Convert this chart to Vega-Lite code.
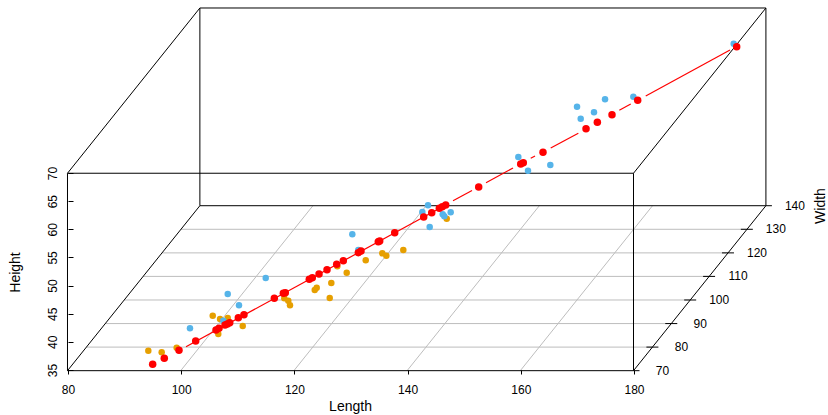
{
"$schema":"https://vega.github.io/schema/vega-lite/v6.json",
"width":828,"height":415,"padding":0,"autosize":{"type":"none"},
"background":"white",
"config":{"view":{"stroke":null},"font":"Liberation Sans"},
"datasets":{
"points":[
{"Length":94.19,"Height":38.43,"group":"orange"},{"Length":96.55,"Height":38.14,"group":"orange"},{"Length":99.2,"Height":38.96,"group":"orange"},{"Length":105.57,"Height":44.65,"group":"orange"},{"Length":106.86,"Height":44.06,"group":"orange"},{"Length":108.22,"Height":44.24,"group":"orange"},{"Length":106.55,"Height":41.4,"group":"orange"},{"Length":110.87,"Height":42.82,"group":"orange"},{"Length":118.22,"Height":47.74,"group":"orange"},{"Length":118.92,"Height":47.31,"group":"orange"},{"Length":119.22,"Height":46.49,"group":"orange"},{"Length":127.58,"Height":53.42,"group":"orange"},{"Length":129.24,"Height":52.29,"group":"orange"},{"Length":126.52,"Height":50.46,"group":"orange"},{"Length":123.94,"Height":49.62,"group":"orange"},{"Length":123.59,"Height":49.21,"group":"orange"},{"Length":126.24,"Height":47.79,"group":"orange"},{"Length":132.6,"Height":54.49,"group":"orange"},{"Length":135.53,"Height":55.73,"group":"orange"},{"Length":136.24,"Height":55.31,"group":"orange"},{"Length":139.24,"Height":56.32,"group":"orange"},{"Length":146.91,"Height":61.88,"group":"orange"},
{"Length":101.55,"Height":42.41,"group":"blue"},{"Length":108.22,"Height":48.5,"group":"blue"},{"Length":110.21,"Height":46.49,"group":"blue"},{"Length":114.93,"Height":51.35,"group":"blue"},{"Length":107.44,"Height":43.76,"group":"blue"},{"Length":130.23,"Height":59.11,"group":"blue"},{"Length":131.29,"Height":56.32,"group":"blue"},{"Length":143.6,"Height":64.26,"group":"blue"},{"Length":142.6,"Height":63.07,"group":"blue"},{"Length":143.9,"Height":60.41,"group":"blue"},{"Length":147.61,"Height":63.02,"group":"blue"},{"Length":146.2,"Height":62.66,"group":"blue"},{"Length":146.48,"Height":62.31,"group":"blue"},{"Length":197.61,"Height":92.97,"group":"blue"},{"Length":179.88,"Height":83.56,"group":"blue"},{"Length":174.88,"Height":83.09,"group":"blue"},{"Length":169.93,"Height":81.78,"group":"blue"},{"Length":172.93,"Height":80.78,"group":"blue"},{"Length":170.58,"Height":79.65,"group":"blue"},{"Length":159.56,"Height":72.84,"group":"blue"},{"Length":165.21,"Height":71.42,"group":"blue"},{"Length":161.27,"Height":70.41,"group":"blue"}
],
"fit":[
{"Length":94.96,"Height":36.01},{"Length":97.01,"Height":37.08},{"Length":99.61,"Height":38.5},{"Length":102.56,"Height":40.15},{"Length":106.15,"Height":42.11},{"Length":106.68,"Height":42.41},{"Length":107.74,"Height":42.99},{"Length":108.15,"Height":43.17},{"Length":108.57,"Height":43.4},{"Length":110.09,"Height":44.29},{"Length":111.09,"Height":44.82},{"Length":116.45,"Height":47.74},{"Length":118.04,"Height":48.63},{"Length":118.39,"Height":48.73},{"Length":122.63,"Height":51.11},{"Length":123.16,"Height":51.4},{"Length":124.35,"Height":52.06},{"Length":125.76,"Height":52.82},{"Length":127.47,"Height":53.78},{"Length":128.64,"Height":54.42},{"Length":131.29,"Height":55.84},{"Length":131.77,"Height":56.14},{"Length":134.82,"Height":57.79},{"Length":135.07,"Height":57.92},{"Length":137.72,"Height":59.39},{"Length":142.84,"Height":62.18},{"Length":144.26,"Height":62.95},{"Length":145.6,"Height":63.73},{"Length":146.13,"Height":64.01},{"Length":146.73,"Height":64.31},{"Length":152.56,"Height":67.51},{"Length":159.98,"Height":71.6},{"Length":160.44,"Height":71.83},{"Length":163.92,"Height":73.68},{"Length":171.52,"Height":77.87},{"Length":173.52,"Height":79.01},{"Length":176.11,"Height":80.36},{"Length":180.65,"Height":82.92},{"Length":198.14,"Height":92.44}
],
"segments":[
{"seg":"A","Length":100.85,"Height":39.14},{"seg":"A","Length":146.73,"Height":64.31},
{"seg":"B","Length":148.02,"Height":65.08},{"seg":"B","Length":151.38,"Height":66.89},
{"seg":"C","Length":153.85,"Height":68.28},{"seg":"C","Length":158.62,"Height":70.89},
{"seg":"D","Length":161.75,"Height":72.61},{"seg":"D","Length":162.51,"Height":73.02},
{"seg":"E","Length":165.28,"Height":74.44},{"seg":"E","Length":170.16,"Height":77.05},
{"seg":"F","Length":177.4,"Height":81.14},{"seg":"F","Length":179.42,"Height":82.26},
{"seg":"G","Length":182.07,"Height":83.68},{"seg":"G","Length":196.96,"Height":91.85}
],
"grid":[
{"Length":99.91,"Height":34.88,"L2":123.27,"H2":64.19},{"Length":119.91,"Height":34.88,"L2":143.27,"H2":64.19},{"Length":139.91,"Height":34.88,"L2":163.27,"H2":64.19},{"Length":159.91,"Height":34.88,"L2":183.27,"H2":64.19},
{"Length":83.25,"Height":39.07,"L2":183.25,"H2":39.07},{"Length":86.58,"Height":43.25,"L2":186.58,"H2":43.25},{"Length":89.92,"Height":47.44,"L2":189.92,"H2":47.44},{"Length":93.26,"Height":51.63,"L2":193.26,"H2":51.63},{"Length":96.6,"Height":55.81,"L2":196.6,"H2":55.81},{"Length":99.93,"Height":60.0,"L2":199.93,"H2":60.0}
],
"frame":[
{"Length":79.91,"Height":34.88,"L2":179.91,"H2":34.88},{"Length":79.91,"Height":69.96,"L2":179.91,"H2":69.96},{"Length":79.91,"Height":34.88,"L2":79.91,"H2":69.96},{"Length":179.91,"Height":34.88,"L2":179.91,"H2":69.96},
{"Length":103.3,"Height":64.19,"L2":203.3,"H2":64.19},{"Length":103.3,"Height":99.32,"L2":203.3,"H2":99.32},{"Length":103.3,"Height":64.19,"L2":103.3,"H2":99.32},{"Length":203.3,"Height":64.19,"L2":203.3,"H2":99.32},
{"Length":79.91,"Height":34.88,"L2":103.3,"H2":64.19},{"Length":79.91,"Height":69.96,"L2":103.3,"H2":99.32},{"Length":179.91,"Height":34.88,"L2":203.3,"H2":64.19},{"Length":179.91,"Height":69.96,"L2":203.3,"H2":99.32},
{"Length":179.91,"Height":34.88,"L2":180.97,"H2":34.88},{"Length":182.19,"Height":39.07,"L2":184.31,"H2":39.07},{"Length":185.52,"Height":43.25,"L2":187.64,"H2":43.25},{"Length":188.86,"Height":47.44,"L2":190.98,"H2":47.44},{"Length":192.2,"Height":51.63,"L2":194.32,"H2":51.63},{"Length":195.54,"Height":55.81,"L2":197.66,"H2":55.81},{"Length":198.87,"Height":60.0,"L2":200.99,"H2":60.0},{"Length":203.3,"Height":64.19,"L2":204.36,"H2":64.19}
],
"widthLabels":[
{"Length":179.91,"Height":34.88,"Width":70},{"Length":183.25,"Height":39.07,"Width":80},{"Length":186.58,"Height":43.25,"Width":90},{"Length":189.92,"Height":47.44,"Width":100},{"Length":193.26,"Height":51.63,"Width":110},{"Length":196.6,"Height":55.81,"Width":120},{"Length":199.93,"Height":60.0,"Width":130},{"Length":203.3,"Height":64.19,"Width":140}
],
"widthTitle":[{"Length":213.04,"Height":64.14,"label":"Width"}]
},
"layer":[
{"data":{"name":"grid"},"mark":{"type":"rule","color":"#bdbdbd","strokeWidth":1},
"encoding":{
"x":{"field":"Length","type":"quantitative","scale":{"domain":[67.986,214.27],"nice":false,"zero":false},
"axis":{"orient":"bottom","offset":-45,"values":[80,100,120,140,160,180],"domain":false,"grid":false,"tickSize":4,"tickColor":"#000","labelColor":"#000","labelFontSize":12,"labelPadding":15,"labelBaseline":"middle","labelFlush":false,"labelOverlap":false,"title":"Length","titleFontSize":14,"titleFontWeight":"normal","titleColor":"#000","titleX":350,"titleY":36,"titleBaseline":"middle","titleAlign":"center"}},
"y":{"field":"Height","type":"quantitative","scale":{"domain":[27.005,100.74],"nice":false,"zero":false},
"axis":{"orient":"left","offset":-68,"values":[35,40,45,50,55,60,65,70],"domain":false,"grid":false,"tickSize":-5,"tickColor":"#000","labelColor":"#000","labelFontSize":12,"labelAngle":-90,"labelPadding":21,"labelAlign":"center","labelBaseline":"middle","labelFlush":false,"labelOverlap":false,"title":"Height","titleFontSize":14,"titleFontWeight":"normal","titleColor":"#000","titleAngle":-90,"titleX":-53,"titleY":272,"titleBaseline":"middle","titleAlign":"center"}},
"x2":{"field":"L2"},"y2":{"field":"H2"}}},
{"data":{"name":"frame"},"mark":{"type":"rule","color":"#000","strokeWidth":1},
"encoding":{"x":{"field":"Length","type":"quantitative"},"y":{"field":"Height","type":"quantitative"},"x2":{"field":"L2"},"y2":{"field":"H2"}}},
{"data":{"name":"points"},"mark":{"type":"point","filled":true,"opacity":1,"size":42,"strokeWidth":0},
"encoding":{"x":{"field":"Length","type":"quantitative"},"y":{"field":"Height","type":"quantitative"},
"color":{"field":"group","type":"nominal","scale":{"domain":["orange","blue"],"range":["#E69F00","#56B4E9"]},"legend":null}}},
{"data":{"name":"segments"},"mark":{"type":"line","color":"#ff0000","strokeWidth":1.2},
"encoding":{"x":{"field":"Length","type":"quantitative"},"y":{"field":"Height","type":"quantitative"},"detail":{"field":"seg"}}},
{"data":{"name":"fit"},"mark":{"type":"point","filled":true,"opacity":1,"size":56,"color":"#ff0000","strokeWidth":0},
"encoding":{"x":{"field":"Length","type":"quantitative"},"y":{"field":"Height","type":"quantitative"}}},
{"data":{"name":"widthLabels"},"mark":{"type":"text","dx":29,"align":"center","baseline":"middle","fontSize":12,"color":"#000"},
"encoding":{"x":{"field":"Length","type":"quantitative"},"y":{"field":"Height","type":"quantitative"},"text":{"field":"Width","type":"quantitative"}}},
{"data":{"name":"widthTitle"},"mark":{"type":"text","angle":270,"align":"center","baseline":"middle","fontSize":14,"color":"#000"},
"encoding":{"x":{"field":"Length","type":"quantitative"},"y":{"field":"Height","type":"quantitative"},"text":{"field":"label"}}}
]
}
